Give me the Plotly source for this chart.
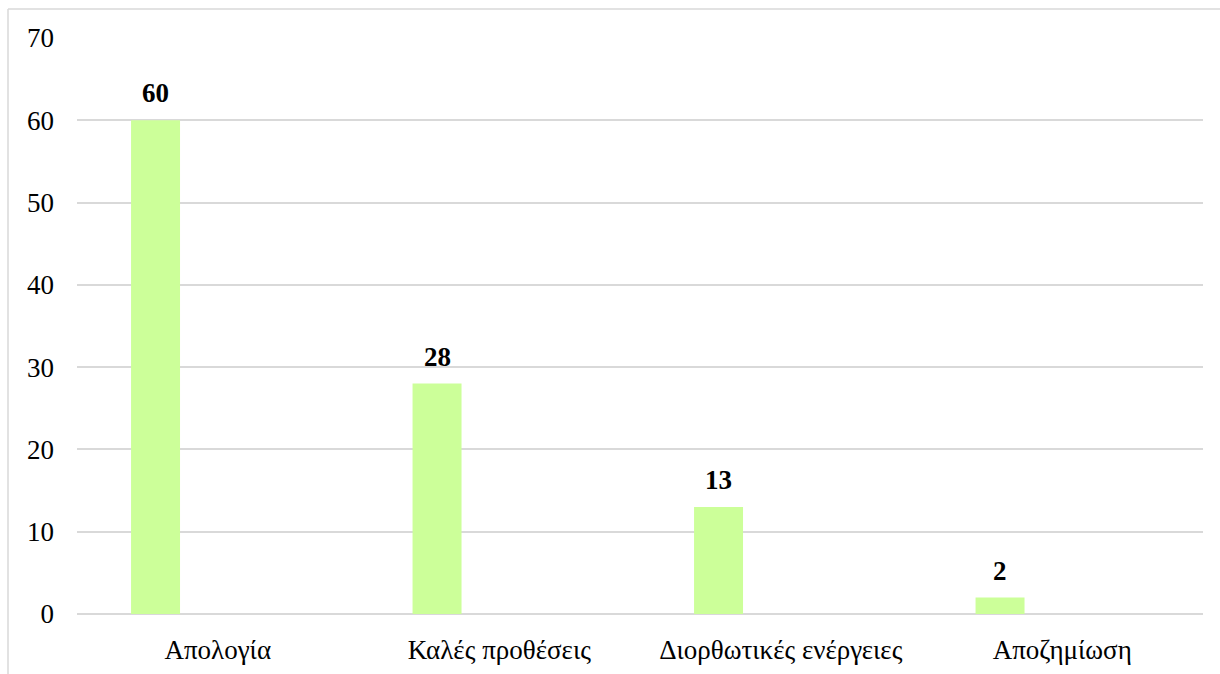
import plotly.graph_objects as go

categories = ["Απολογία", "Καλές προθέσεις", "Διορθωτικές ενέργειες", "Αποζημίωση"]
values = [60, 28, 13, 2]
y_ticks = [0, 10, 20, 30, 40, 50, 60, 70]

W, H = 1220, 674
L, R, T, B = 77, 17, 38, 60
pw, ph = W - L - R, H - T - B
FS = 27

fig = go.Figure()
fig.add_trace(go.Bar(
    x=categories, y=values,
    marker=dict(color="#CCFF99", line=dict(width=0)),
    width=0.174, offset=-0.308,
    hoverinfo="x+y",
))

# data labels centred over bars
for c, v in zip(categories, values):
    fig.add_annotation(
        x=c, y=v, xref="x", yref="y", text=f"<b>{v}</b>", showarrow=False,
        xanchor="center", yanchor="bottom", xshift=-0.221 * pw / len(categories),
        yshift=10, font=dict(family="Liberation Serif", size=FS, color="#000000"),
    )

# outer chart border (cropped by window)
bx = (8 - L) / pw
by = (H - B - 9) / ph
fig.add_shape(type="line", xref="paper", yref="paper", x0=bx, x1=1.2, y0=by, y1=by,
              line=dict(color="#D9D9D9", width=1.5))
fig.add_shape(type="line", xref="paper", yref="paper", x0=bx, x1=bx, y0=by, y1=-0.3,
              line=dict(color="#D9D9D9", width=1.5))

fig.update_layout(
    width=W, height=H,
    margin=dict(l=L, r=R, t=T, b=B, pad=0, autoexpand=False),
    paper_bgcolor="white", plot_bgcolor="white",
    showlegend=False,
    font=dict(family="Liberation Serif", size=FS, color="#000000"),
    xaxis=dict(type="category", showgrid=False, showline=False, zeroline=False,
               ticks="", tickfont=dict(family="Liberation Serif", size=FS),
               ticklabelstandoff=17, automargin=False),
    yaxis=dict(range=[0, 70], tickvals=y_ticks, showgrid=True, gridcolor="#D9D9D9",
               gridwidth=1.5, zeroline=True, zerolinecolor="#D9D9D9", zerolinewidth=1.5,
               showline=False, ticks="", tickfont=dict(family="Liberation Serif", size=FS),
               ticklabelstandoff=22, automargin=False),
)

fig.write_html("out.html")
